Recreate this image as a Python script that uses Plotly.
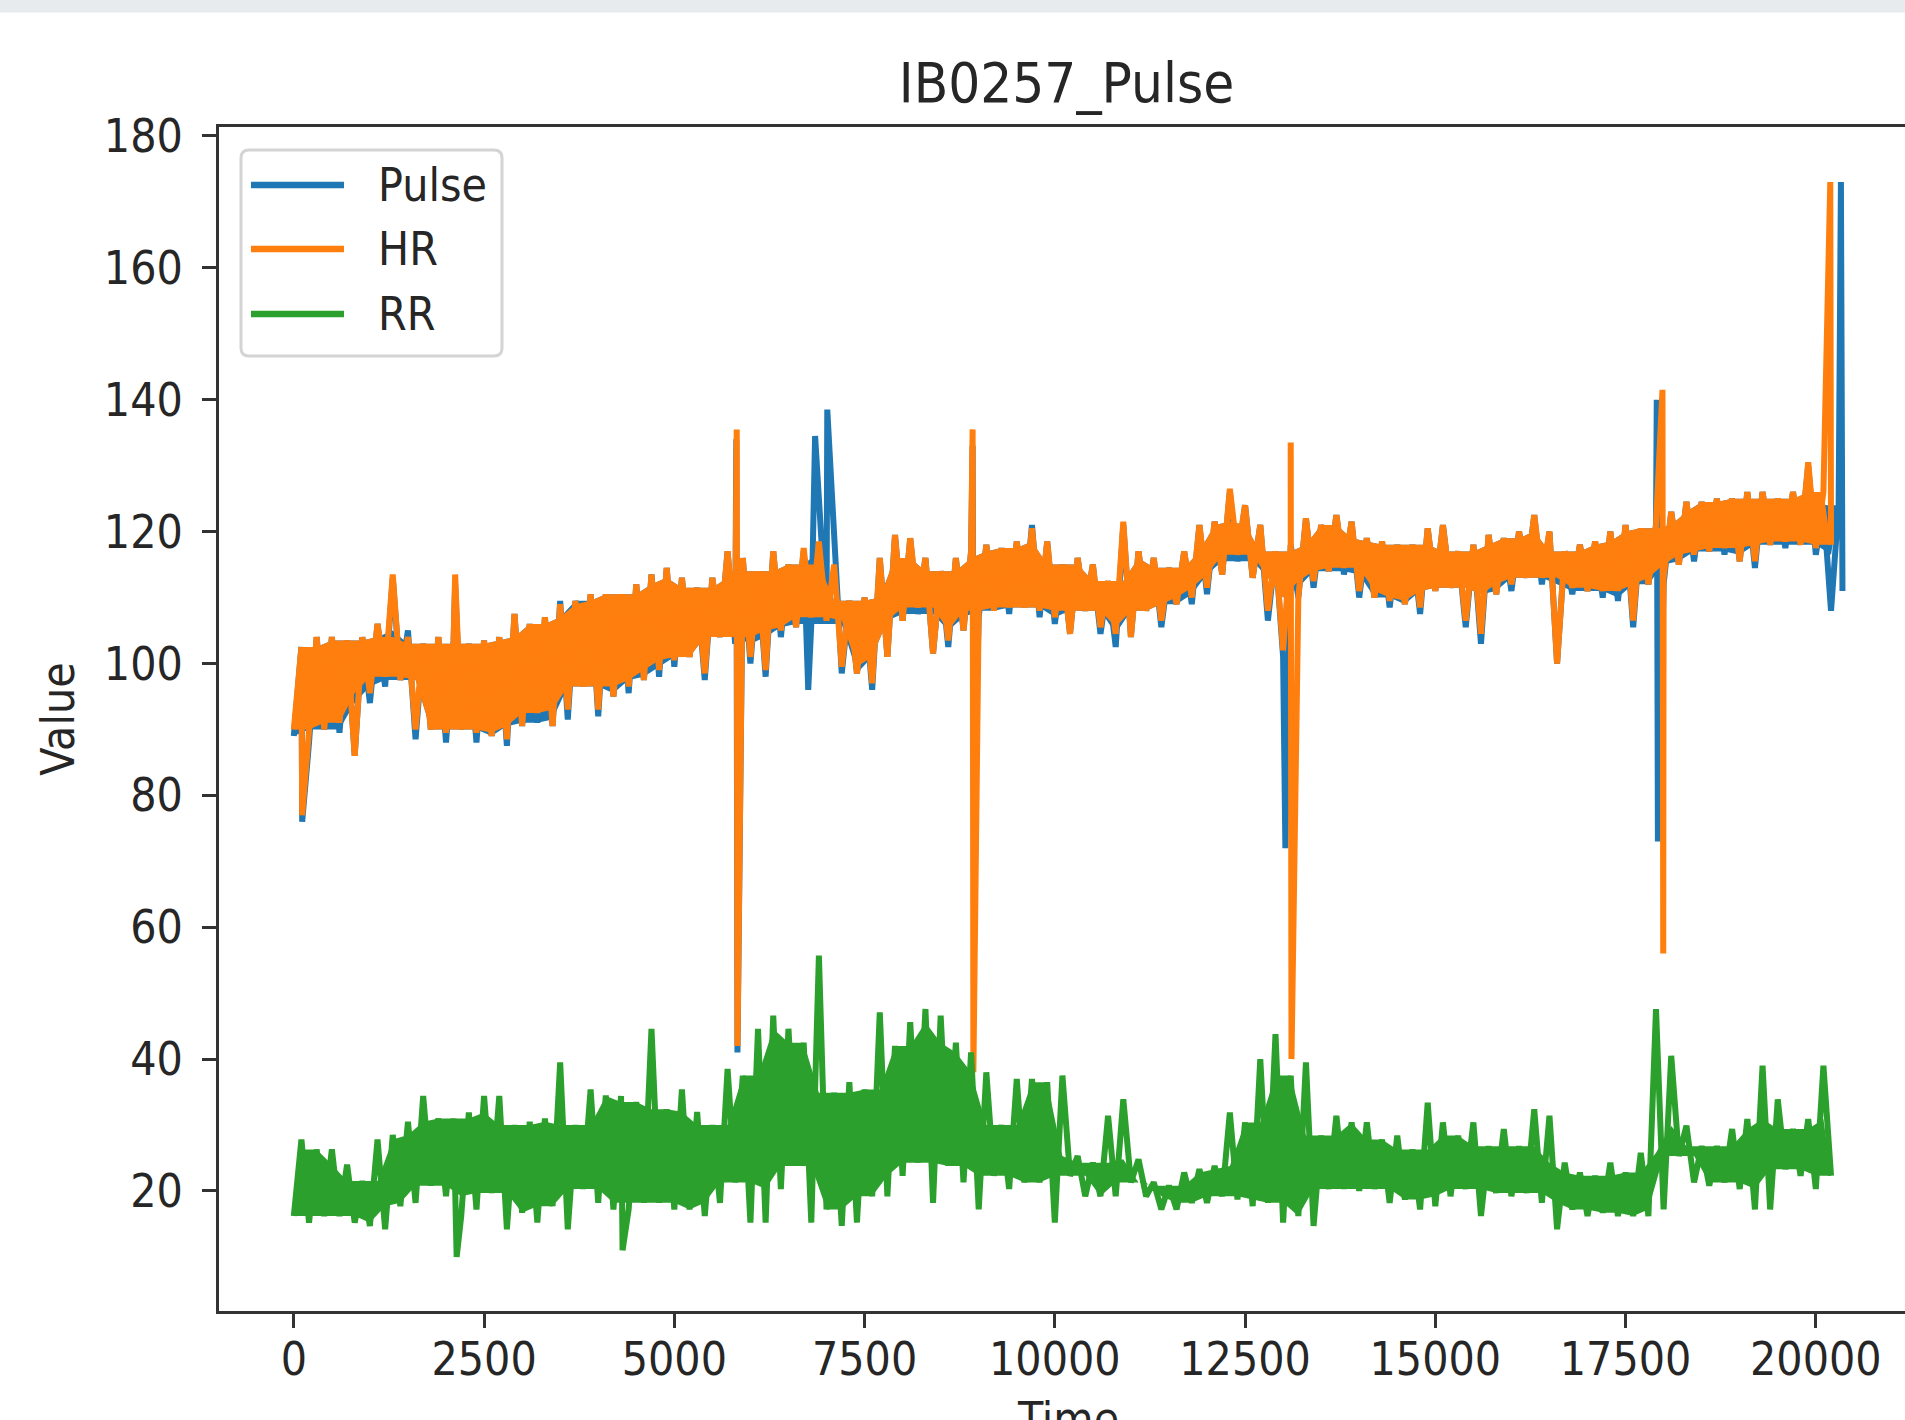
import plotly.graph_objects as go

# ---------------- data ----------------
TITLE = "IB0257_Pulse"
SERIES_NAMES = ["Pulse", "HR", "RR"]
COLORS = ["#1f77b4", "#ff7f0e", "#2ca02c"]
X_TICKS = [0, 2500, 5000, 7500, 10000, 12500, 15000, 17500, 20000]
Y_TICKS = [20, 40, 60, 80, 100, 120, 140, 160, 180]

# band of the noisy signal:
#   *_low  = local minima at Time = 0, 200, 400, ...
#   *_high = local maxima at Time = 100, 300, 500, ...
pulse_low = [
    89, 88, 90, 89.5, 86, 94, 96.5, 97.5, 88.5, 90,
    88, 90, 88, 89, 87.5, 90.5, 91, 90.5, 91.5, 96.5,
    92, 95, 95.5, 97.5, 98, 99.5, 101, 97.5, 104, 103,
    100, 98, 104, 105.5, 106, 106, 98.5, 98.5, 96, 101,
    106.5, 107.5, 101.5, 102.5, 105, 107, 108, 107.5, 108.5, 107,
    106, 104.5, 108, 104.5, 102.5, 104, 108, 105.5, 109, 109,
    110.5, 113.5, 115.5, 113, 106.5, 101, 110, 111.5, 114, 113.5,
    110, 110, 108.5, 109, 107.5, 111, 111.5, 105.5, 103, 110.5,
    111, 113, 112, 100, 110.5, 111, 110, 109.5, 105.5, 112,
    112, 115, 115.5, 117, 116.5, 115.5, 114.5, 118, 117.5, 118,
    116.5, 108]
pulse_high = [
    102.5, 104, 104, 103.5, 104, 106, 113, 105, 103, 104,
    103.5, 103, 103.5, 104, 107.5, 106, 107, 109.5, 109.5, 110.5,
    110.5, 110.5, 112, 113.5, 114.5, 113, 111.5, 113, 117, 116,
    114, 117, 115, 117, 125, 118, 109.5, 110, 116, 119.5,
    119, 116, 114, 116, 117, 118, 117.5, 118.5, 121, 118.5,
    115, 116, 115, 112.5, 121, 117, 116, 114.5, 117, 121,
    121.5, 126, 124, 121, 117, 118, 122, 121, 122.5, 121.5,
    119, 118.5, 118, 118, 120.5, 121, 117, 118, 119.5, 119,
    120, 122.5, 120, 117, 118, 118.5, 120, 121, 120.5, 121,
    123, 124.5, 124.5, 125, 125, 126, 126, 125, 126, 130,
    124, 124]
# isolated one-sample spikes
pulse_spike_time = [110, 2120, 5815, 5830, 6760, 6850, 7010, 8920, 8935,
                    13030, 17910, 17925, 20330, 20350]
pulse_spike_value = [76, 112, 134, 41, 96, 134.5, 138.5, 133, 80,
                     72, 140, 73, 173, 111]

hr_low = [
    90, 89, 90, 91, 86, 95.5, 98, 97.5, 90, 90,
    89.5, 90, 89.5, 89, 88.5, 90.5, 92.5, 90.5, 93, 96.5,
    93, 95, 96.5, 97.5, 99, 100.5, 101, 98.5, 104, 104,
    101, 99, 105, 105.5, 107, 106.5, 99.5, 98.5, 97, 101,
    106.5, 108.5, 101.5, 103.5, 105, 108, 108, 108.5, 108.5, 108,
    107, 104.5, 108, 105.5, 104.5, 104, 108, 106.5, 109, 110,
    111.5, 113.5, 116.5, 113, 108, 102, 110, 112.5, 114, 114.5,
    111, 110, 109.5, 109, 108.5, 111, 111.5, 106.5, 104.5, 110.5,
    112, 113, 113, 100, 111.5, 111, 111, 111, 106.5, 112,
    113, 115, 116.5, 117, 117.5, 115.5, 115.5, 118, 118.5, 118,
    117.5, 118]
hr_high = [
    102.5, 104, 104, 103.5, 104, 106, 113.5, 104, 103, 104,
    103.5, 103, 103.5, 104, 107.5, 106, 107, 109, 109.5, 110.5,
    110.5, 110.5, 112, 113.5, 114.5, 113, 111.5, 113, 117, 116,
    114, 117, 115, 117.5, 118.5, 115, 109.5, 110, 116, 119.5,
    119, 116, 114, 116, 117, 118, 117.5, 118.5, 120.5, 118.5,
    115, 116, 115, 112.5, 121.5, 117, 116, 114.5, 117, 121,
    121.5, 126.5, 124, 121, 117, 118, 122, 121, 122.5, 121.5,
    119, 118.5, 118, 118, 120.5, 121, 117, 118, 119.5, 119,
    120, 122.5, 120, 117, 118, 118.5, 120, 121, 120.5, 121,
    123, 124.5, 124.5, 125, 125, 126, 126, 125, 126, 130.5,
    126]
hr_spike_time = [110, 2120, 5820, 5830, 8920, 8930, 13100, 13110,
                 17985, 17995, 20190]
hr_spike_value = [77, 113.5, 135.5, 42, 135.5, 38, 133.5, 40,
                  141.5, 56, 173]

rr_low = [
    16.2, 15.2, 16.2, 16.2, 15.2, 14.7, 14.2, 17.7, 18.2, 20.8,
    19.2, 16.2, 17.2, 19.7, 14.2, 16.7, 15.2, 17.7, 14.2, 20.3,
    18.2, 17.2, 17.2, 18.2, 18.2, 17.2, 17.2, 16.2, 18.2, 21.3,
    15.2, 15.2, 20.3, 23.8, 15.2, 17.2, 14.7, 15.2, 19.2, 19.2,
    22.3, 24.3, 18.2, 23.8, 21.3, 17.2, 22.3, 20.3, 21.3, 21.3,
    15.2, 22.3, 19.2, 19.2, 19.2, 21.3, 19.2, 17.2, 17.2, 18.2,
    18.2, 19.2, 18.7, 17.7, 18.2, 15.2, 16.2, 14.7, 20.3, 20.3,
    20, 20.3, 18.2, 18.7, 17.2, 17.7, 19.2, 20.3, 16.2, 19.7,
    19.2, 19.7, 18.2, 14.2, 17.2, 16.2, 16.7, 16.2, 16.2, 16.2,
    17.2, 25.3, 21.3, 20.8, 21.3, 20.3, 17.2, 17.2, 23.3, 22.3,
    20.3, 22.3]
rr_high = [
    27.8, 26.3, 26.3, 24, 21.5, 27.8, 28.5, 30.5, 34.4, 31,
    31, 31.9, 34.4, 34.4, 30, 30.5, 31, 39.5, 30, 35.4,
    34.5, 34.4, 33.5, 44.6, 32.4, 35.4, 32, 30, 38.5, 37.5,
    44.6, 46.6, 44.6, 42.5, 55.7, 34.9, 36.5, 35.4, 47.1, 42,
    45.6, 47.6, 46.6, 42.5, 41, 38, 30, 37, 37, 36.5,
    37.5, 25.3, 24.3, 31.4, 33.9, 24.8, 21.3, 20.8, 22.8, 23.3,
    23.8, 31.9, 30.4, 40, 43.8, 37.5, 39.5, 28.4, 31.4, 30.4,
    30.4, 27.8, 28.4, 26.3, 33.4, 30.4, 28.4, 30.4, 26.8, 29.4,
    26.8, 32.4, 31.4, 24.3, 22.8, 22.3, 24.3, 22.8, 25.8, 47.6,
    40.5, 29.9, 26.8, 26.8, 29.4, 30.9, 39, 33.9, 29.4, 30.9,
    39]
rr_spike_time = [2140, 4320]
rr_spike_value = [10, 11]

SAMPLE_STEP = 200   # time between consecutive minima
HALF_STEP = 100     # maxima lie halfway between minima

series = [
    (pulse_low, pulse_high, pulse_spike_time, pulse_spike_value),
    (hr_low, hr_high, hr_spike_time, hr_spike_value),
    (rr_low, rr_high, rr_spike_time, rr_spike_value),
]


def low_times(lows):
    return [i * SAMPLE_STEP for i in range(len(lows))]


def high_times(highs):
    return [i * SAMPLE_STEP + HALF_STEP for i in range(len(highs))]


def signal(lows, highs, st, sv):
    pts = list(zip(low_times(lows), lows)) + list(zip(high_times(highs), highs))
    pts += list(zip(st, sv))
    pts.sort(key=lambda p: p[0])
    return [p[0] for p in pts], [p[1] for p in pts]


def dense_core(lows, highs):
    """Solid body of the densely oscillating trace (between neighbouring extremes)."""
    core_lo = [max(lows[max(0, i - 1):i + 2]) for i in range(len(lows))]
    core_hi = [min(highs[max(0, i - 1):i + 2]) for i in range(len(highs))]
    xs = low_times(lows) + high_times(highs)[::-1]
    ys = core_lo + core_hi[::-1]
    return xs, ys


# ---------------- figure ----------------
W, H = 1905, 1420
PL, PR, PT, PB = 219, 1905, 127, 1311   # plot area in pixels
FONT = "DejaVu Sans Condensed, DejaVu Sans, sans-serif"
TXT = "#262626"
AX = "#333333"
FS = 46

fig = go.Figure()
for name, color, (lo, hi, st, sv) in zip(SERIES_NAMES, COLORS, series):
    cx, cy = dense_core(lo, hi)
    fig.add_trace(go.Scatter(x=cx, y=cy, mode="lines", fill="toself",
                             fillcolor=color, line=dict(width=0, color=color),
                             showlegend=False, hoverinfo="skip", name=name))
    xs, ys = signal(lo, hi, st, sv)
    fig.add_trace(go.Scatter(x=xs, y=ys, mode="lines", name=name,
                             line=dict(color=color, width=6),
                             showlegend=False, hoverinfo="skip"))


def px(x):
    return (x - PL) / (PR - PL)


def py(y):
    return (PB - y) / (PB - PT)


shapes = []
# grey strip across the very top of the page
shapes.append(dict(type="rect", xref="paper", yref="paper",
                   x0=px(-5), x1=px(1910), y0=py(12.5), y1=py(-5),
                   fillcolor="#e8ebee", line=dict(width=0), layer="below"))

# legend frame (rounded rectangle)
lx0, lx1, ly0, ly1, r = 241, 502, 150, 356, 8
path = (f"M{px(lx0 + r)},{py(ly0)} L{px(lx1 - r)},{py(ly0)} "
        f"Q{px(lx1)},{py(ly0)} {px(lx1)},{py(ly0 + r)} "
        f"L{px(lx1)},{py(ly1 - r)} Q{px(lx1)},{py(ly1)} {px(lx1 - r)},{py(ly1)} "
        f"L{px(lx0 + r)},{py(ly1)} Q{px(lx0)},{py(ly1)} {px(lx0)},{py(ly1 - r)} "
        f"L{px(lx0)},{py(ly0 + r)} Q{px(lx0)},{py(ly0)} {px(lx0 + r)},{py(ly0)} Z")
shapes.append(dict(type="path", xref="paper", yref="paper", path=path,
                   fillcolor="rgba(255,255,255,0.85)",
                   line=dict(color="#d4d4d4", width=3), layer="above"))

annotations = []
rows = [185, 249, 314]
for name, color, ry in zip(SERIES_NAMES, COLORS, rows):
    shapes.append(dict(type="line", xref="paper", yref="paper",
                       x0=px(251), x1=px(344), y0=py(ry), y1=py(ry),
                       line=dict(color=color, width=6.5), layer="above"))
    annotations.append(dict(text=name, xref="paper", yref="paper",
                            x=px(376), y=py(ry), xanchor="left", yanchor="middle",
                            showarrow=False,
                            font=dict(family=FONT, size=FS, color=TXT)))

# x-axis title (partly cut by the bottom edge, as in the reference)
annotations.append(dict(text="Time", xref="paper", yref="paper",
                        x=px(1068), y=py(1390), xanchor="center", yanchor="top",
                        showarrow=False,
                        font=dict(family=FONT, size=FS, color=TXT)))

fig.update_layout(
    width=W, height=H,
    margin=dict(l=PL, r=W - PR, t=PT, b=H - PB, pad=0),
    paper_bgcolor="white", plot_bgcolor="white",
    showlegend=False,
    title=dict(text=TITLE, x=1066.5 / W, xref="container", xanchor="center",
               y=1 - 102 / H, yref="container", yanchor="bottom",
               font=dict(family=FONT, size=56, color=TXT)),
    shapes=shapes,
    annotations=annotations,
)

fig.update_xaxes(
    range=[-983, 21172], tickvals=X_TICKS, ticktext=[str(v) for v in X_TICKS],
    showgrid=False, zeroline=False,
    showline=True, linecolor=AX, linewidth=3, mirror=True,
    ticks="outside", ticklen=14, tickwidth=3, tickcolor=AX,
    tickfont=dict(family=FONT, size=FS, color=TXT), ticklabelstandoff=-8,
    automargin=False,
)
fig.update_yaxes(
    range=[1.80, 181.36], tickvals=Y_TICKS, ticktext=[str(v) for v in Y_TICKS],
    showgrid=False, zeroline=False,
    showline=True, linecolor=AX, linewidth=3, mirror=False,
    ticks="outside", ticklen=14, tickwidth=3, tickcolor=AX,
    tickfont=dict(family=FONT, size=FS, color=TXT), ticklabelstandoff=10,
    title=dict(text="Value", standoff=15, font=dict(family=FONT, size=FS, color=TXT)),
    automargin=False,
)

fig.write_html("out.html", config={"displayModeBar": False},
               post_script="document.body.style.margin='0px';")
